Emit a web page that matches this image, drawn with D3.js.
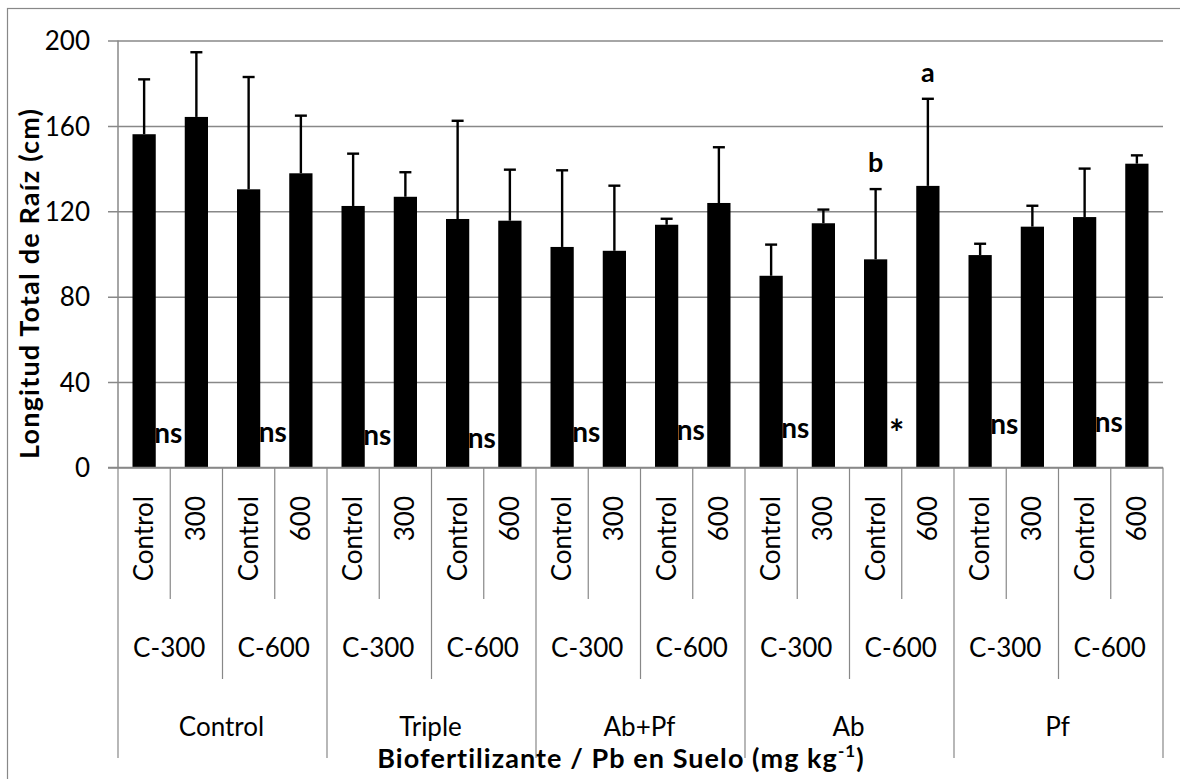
<!DOCTYPE html>
<html>
<head>
<meta charset="utf-8">
<script src="https://cdn.jsdelivr.net/npm/d3@7/dist/d3.min.js"></script>
<style>
  html, body { margin: 0; padding: 0; background: #fff; }
  svg { display: block; }
  text { font-family: Lato, "Open Sans", sans-serif; fill: #000; }
</style>
</head>
<body>
<svg id="chart" width="1180" height="779"></svg>
<script>
// ---- data ----
const groupLabels = ["Control", "Triple", "Ab+Pf", "Ab", "Pf"];
const pairLabels = ["C-300", "C-600", "C-300", "C-600", "C-300", "C-600", "C-300", "C-600", "C-300", "C-600"];
const categoryLabels = [
  "Control", "300", "Control", "600",
  "Control", "300", "Control", "600",
  "Control", "300", "Control", "600",
  "Control", "300", "Control", "600",
  "Control", "300", "Control", "600"
];
// mean total root length (cm)
const means = [156.1, 164.2, 130.3, 137.8, 122.5, 126.8, 116.4, 115.6, 103.3, 101.5,
               113.7, 123.9, 89.8, 114.4, 97.5, 131.9, 99.5, 112.8, 117.3, 142.3];
// standard deviation (upper error bar)
const errors = [25.7, 30.3, 52.6, 27.0, 24.5, 11.5, 46.0, 23.9, 35.9, 30.5,
                2.8, 26.1, 14.6, 6.4, 32.9, 40.8, 5.3, 9.8, 22.7, 3.9];
// significance of each Control vs Pb comparison
const pairSignificance = ["ns", "ns", "ns", "ns", "ns", "ns", "ns", "*", "ns", "ns"];
// mean-separation letters per bar
const barLetters = ["", "", "", "", "", "", "", "", "", "", "", "", "", "", "b", "a", "", "", "", ""];
const yTicks = [0, 40, 80, 120, 160, 200];

// ---- layout ----
const svg = d3.select("#chart");
const plotLeft = 118, plotRight = 1163, plotTop = 40.5, plotBottom = 467.5;
const gridColor = "#888888";
const labelSize = "26px";
const idx = d3.range(categoryLabels.length);

const x = d3.scaleBand().domain(idx).range([plotLeft, plotRight]).padding(0);
const xBar = d3.scaleBand().domain(idx).range([plotLeft, plotRight]).paddingInner(0.555).paddingOuter(0.2775);
const y = d3.scaleLinear().domain([0, 200]).range([plotBottom, plotTop]);

// outer chart frame (runs off the right and bottom edges)
svg.append("rect")
  .attr("x", 7.5).attr("y", 8.5).attr("width", 1200).attr("height", 800)
  .attr("fill", "none").attr("stroke", gridColor).attr("stroke-width", 1.2);

// horizontal gridlines + y axis
const yAxis = d3.axisLeft(y).tickValues(yTicks).tickSize(-(plotRight - plotLeft)).tickPadding(0).tickFormat(d3.format("d"));
const gy = svg.append("g").attr("transform", `translate(${plotLeft},0)`).call(yAxis);
gy.select(".domain").remove();
gy.selectAll(".tick line").attr("stroke", gridColor).attr("stroke-width", 1.5).attr("x1", -10);
gy.selectAll(".tick text")
  .attr("x", -28).attr("dy", "0.35em")
  .style("font-size", labelSize).style("font-family", "Lato, sans-serif").attr("fill", "#000");
svg.append("line")
  .attr("x1", plotLeft).attr("x2", plotLeft).attr("y1", plotTop).attr("y2", plotBottom)
  .attr("stroke", gridColor).attr("stroke-width", 1.5);

// bars
svg.append("g").selectAll("rect").data(idx).join("rect")
  .attr("x", i => xBar(i))
  .attr("width", xBar.bandwidth())
  .attr("y", i => y(means[i]))
  .attr("height", i => y(0) - y(means[i]))
  .attr("fill", "#000");

// error bars (upper only)
const eb = svg.append("g").attr("stroke", "#000").attr("stroke-width", 2.4);
eb.selectAll("line.v").data(idx).join("line").attr("class", "v")
  .attr("x1", i => x(i) + x.bandwidth() / 2).attr("x2", i => x(i) + x.bandwidth() / 2)
  .attr("y1", i => y(means[i])).attr("y2", i => y(means[i] + errors[i]));
eb.selectAll("line.c").data(idx).join("line").attr("class", "c")
  .attr("x1", i => x(i) + x.bandwidth() / 2 - 6).attr("x2", i => x(i) + x.bandwidth() / 2 + 6)
  .attr("y1", i => y(means[i] + errors[i])).attr("y2", i => y(means[i] + errors[i]));

// bottom axis line
svg.append("line")
  .attr("x1", plotLeft - 10).attr("x2", plotRight).attr("y1", plotBottom).attr("y2", plotBottom)
  .attr("stroke", gridColor).attr("stroke-width", 1.5);

// multi-level category ticks
const level1End = 599, level2End = 679, level3End = 758;
const boundaries = d3.range(categoryLabels.length + 1);
svg.append("g").selectAll("line").data(boundaries).join("line")
  .attr("x1", b => plotLeft + b * x.step()).attr("x2", b => plotLeft + b * x.step())
  .attr("y1", plotBottom)
  .attr("y2", b => (b % 4 === 0 ? level3End : b % 2 === 0 ? level2End : level1End))
  .attr("stroke", gridColor).attr("stroke-width", 1.2);

// level 1: treatment labels (rotated)
svg.append("g").selectAll("text").data(idx).join("text")
  .attr("transform", i => `translate(${x(i) + x.bandwidth() / 2},496) rotate(-90)`)
  .attr("text-anchor", "end").attr("dy", "0.35em")
  .style("font-size", labelSize)
  .text(i => categoryLabels[i]);

// level 2: pair labels
svg.append("g").selectAll("text").data(pairLabels).join("text")
  .attr("x", (d, j) => plotLeft + (2 * j + 1) * x.step() - 1)
  .attr("y", 657)
  .attr("text-anchor", "middle")
  .style("font-size", labelSize)
  .text(d => d);

// level 3: biofertilizer labels
svg.append("g").selectAll("text").data(groupLabels).join("text")
  .attr("x", (d, k) => plotLeft + (4 * k + 2) * x.step() - 1)
  .attr("y", 736)
  .attr("text-anchor", "middle")
  .style("font-size", labelSize)
  .text(d => d);

// significance marks between each pair of bars (baseline heights in px)
const sigBaseline = [443, 442, 445, 448, 442, 440, 438, 446, 434, 432];
svg.append("g").selectAll("text").data(pairSignificance).join("text")
  .attr("x", (d, j) => plotLeft + (2 * j + 1) * x.step() - (d === "*" ? 5 : 2))
  .attr("y", (d, j) => sigBaseline[j])
  .attr("text-anchor", "middle")
  .style("font-size", d => d === "*" ? "36px" : "28px").style("font-weight", "700")
  .text(d => d);

// letters above error bars
svg.append("g").selectAll("text").data(idx.filter(i => barLetters[i])).join("text")
  .attr("x", i => x(i) + x.bandwidth() / 2)
  .attr("y", i => y(means[i] + errors[i]) - 17)
  .attr("text-anchor", "middle")
  .style("font-size", "27px").style("font-weight", "700")
  .text(i => barLetters[i]);

// axis titles
svg.append("text")
  .attr("transform", "translate(30,284) rotate(-90)")
  .attr("text-anchor", "middle").attr("dy", "0.35em")
  .attr("textLength", 350).attr("lengthAdjust", "spacing")
  .style("font-size", "27px").style("font-weight", "700")
  .text("Longitud Total de Raíz (cm)");

const xt = svg.append("text")
  .attr("x", 621).attr("y", 768)
  .attr("text-anchor", "middle")
  .style("font-size", "27px").style("font-weight", "700");
const xtMain = xt.append("tspan").text("Biofertilizante / Pb en Suelo (mg kg");
xt.append("tspan").attr("dy", -11).style("font-size", "17px").text("-1");
xt.append("tspan").attr("dy", 11).text(")");
// widen the title's letter spacing to span its full width
const xtTarget = 488;
const xtNow = xt.node().getComputedTextLength();
const nChars = "Biofertilizante / Pb en Suelo (mg kg-1)".length;
xt.style("letter-spacing", `${Math.max(0, (xtTarget - xtNow) / nChars)}px`);
</script>
</body>
</html>
